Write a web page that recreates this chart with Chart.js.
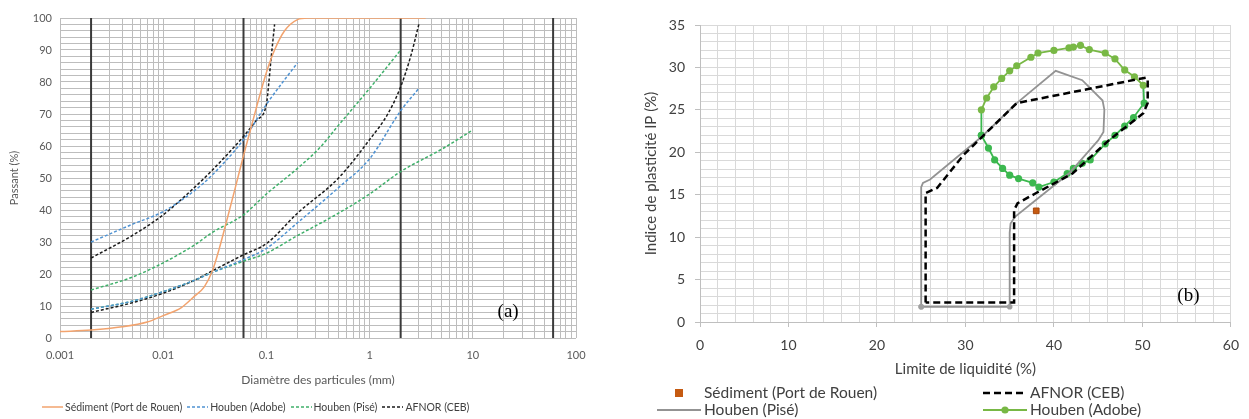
<!DOCTYPE html>
<html>
<head>
<meta charset="utf-8">
<script src="https://cdn.jsdelivr.net/npm/chart.js@4.4.1/dist/chart.umd.min.js"></script>
<style>
  body { margin: 0; background: #fff; font-family: Lato, sans-serif; }
  #page { position: relative; width: 1249px; height: 419px; overflow: hidden; }
  .box { position: absolute; top: 0; height: 419px; }
  .leg { position: absolute; color: #404040; white-space: nowrap; }
  .leg .it { display: inline-flex; align-items: center; }
  .leg svg { display: block; }
  #legA { left: 42px; top: 401px; font-size: 10.5px; line-height: 12px; display: flex; gap: 5px; }
  #legA .it span { margin-left: 2px; }
  #legB { left: 657px; top: 384px; font-size: 15.5px; line-height: 17px; display: grid; grid-template-columns: 326px auto; }
  #legB .it span { margin-left: 3px; }
</style>
</head>
<body>
<div id="page">
  <div class="box" style="left:0;width:640px"><canvas id="chartA"></canvas></div>
  <div class="box" style="left:640px;width:609px"><canvas id="chartB"></canvas></div>
  <div class="leg" id="legA"></div>
  <div class="leg" id="legB"></div>
</div>
<script>
Chart.defaults.font.family = 'Lato';
const TXT = '#595959';

// ---- (a) courbes granulométriques : diamètre (mm) -> passant (%)
const xTickLabels = ['0.001', '0.01', '0.1', '1', '10', '100'];
const sedD = [0.001, 0.002, 0.004, 0.007, 0.01, 0.015, 0.02, 0.025, 0.03, 0.035, 0.04, 0.05, 0.06, 0.07, 0.08, 0.1, 0.12, 0.15, 0.2, 0.25, 3.5];
const sedP = [2, 2.5, 3.5, 5, 7, 9.5, 13, 16, 21, 28, 35, 47, 57, 65, 72, 83, 90, 96, 99.5, 100, 100];
const adobeHiD = [0.002, 0.005, 0.01, 0.02, 0.03, 0.06, 0.1, 0.2];
const adobeHiP = [30, 35.5, 39.5, 46, 51, 62, 73, 86];
const adobeLoD = [0.002, 0.005, 0.01, 0.02, 0.03, 0.06, 0.1, 0.2, 0.5, 1, 2, 3];
const adobeLoP = [9, 11.5, 14.5, 18, 20.5, 24.5, 28, 36, 47, 56, 71, 78];
const piseHiD = [0.002, 0.005, 0.01, 0.02, 0.03, 0.06, 0.1, 0.2, 0.33, 0.5, 1, 2];
const piseHiP = [15, 19, 23.5, 29, 33, 38.5, 45, 53, 59.5, 66.5, 78, 90];
const piseLoD = [0.002, 0.005, 0.01, 0.02, 0.03, 0.06, 0.1, 0.2, 0.5, 1, 2, 5, 10];
const piseLoP = [9, 11.5, 14.5, 18, 20.5, 24, 26.5, 32, 39, 45, 52, 59, 65];
const afnorHiD = [0.002, 0.005, 0.01, 0.02, 0.03, 0.06, 0.08, 0.1, 0.105, 0.11, 0.12];
const afnorHiP = [25, 32, 38.5, 47, 52.5, 63, 68, 73, 79, 86, 98];
const afnorLoD = [0.002, 0.005, 0.01, 0.02, 0.03, 0.06, 0.1, 0.2, 0.5, 1, 1.5, 2, 2.5, 3];
const afnorLoP = [8, 11, 14, 18, 21, 26, 29.5, 39, 50, 62, 70, 78.5, 88, 98];
const boundD = [0.002, 0.06, 2, 60]; // argile / limon / sable / gravier

// ---- (b) diagramme de plasticité : limite de liquidité (%) -> IP (%)
const sedLL = [38.0];
const sedIP = [13.1];
const afnorLL = [25.5, 25.5, 26.8, 29.8, 35.8, 50.4, 50.6, 50.6, 50.1, 46.2, 42.1, 38.0, 35.9, 35.5, 35.5, 25.5];
const afnorIP = [2.3, 15.2, 15.8, 19.7, 25.8, 28.8, 28.6, 25.8, 24.6, 21.4, 17.5, 15.2, 14.0, 13.2, 2.3, 2.3];
const piseLL = [25.0, 25.0, 25.2, 26.0, 31.8, 35.8, 40.2, 43.2, 45.5, 45.7, 45.6, 45.0, 41.7, 38.0, 35.6, 35.1, 35.0, 35.0, 25.0];
const piseIP = [1.8, 15.9, 16.4, 16.8, 21.8, 25.8, 29.6, 28.5, 26.1, 25.0, 22.4, 21.4, 17.5, 14.4, 12.4, 11.6, 10.5, 1.8, 1.8];
const adobeLL = [31.8, 31.8, 32.4, 33.2, 34.1, 35.0, 35.8, 37.4, 38.2, 40.0, 41.7, 42.2, 43.0, 44.0, 45.8, 46.9, 48.0, 49.1, 50.1, 50.2, 49.0, 48.0, 46.9, 45.8, 44.1, 43.2, 42.2, 41.5, 40.0, 38.3, 37.6, 36.0, 35.0, 34.2, 33.3, 32.6, 31.8];
const adobeIP = [22.0, 25.0, 26.4, 27.7, 28.7, 29.6, 30.2, 31.2, 31.7, 32.0, 32.3, 32.4, 32.6, 32.1, 31.7, 31.0, 29.7, 28.9, 27.9, 25.8, 24.1, 23.1, 22.0, 21.0, 19.1, 18.7, 18.1, 17.5, 16.5, 15.9, 16.4, 16.9, 17.3, 18.1, 19.1, 20.5, 22.0];

function pts(xs, ys) {
  return xs.map((x, i) => ({x: x, y: ys[i]}));
}

// grille log : 1..9 par décade
const logGrid = [];
for (let e = -3; e < 2; e++) {
  for (let m = 1; m < 10; m++) logGrid.push(Number((m * Math.pow(10, e)).toPrecision(3)));
}
logGrid.push(100);

// "(a)" / "(b)" dans la zone de tracé
const tagPlugin = {
  id: 'tag',
  afterDraw(chart, args, opts) {
    const {ctx, scales} = chart;
    ctx.save();
    ctx.font = '19px "Liberation Serif", serif';
    ctx.fillStyle = '#000';
    ctx.textAlign = 'center';
    ctx.textBaseline = 'middle';
    ctx.fillText(opts.text, scales.x.getPixelForValue(opts.x), scales.y.getPixelForValue(opts.y));
    ctx.restore();
  }
};

function curve(label, xs, ys, color, dash, inLegend) {
  return {
    label: label, data: pts(xs, ys), borderColor: color, borderWidth: 1.5,
    borderDash: dash, pointRadius: 0, cubicInterpolationMode: 'monotone', inLegend: inLegend
  };
}

const orange = '#f2a36e', blue = '#4f92d2', green = '#3fb06a', black = '#1a1a1a';
const dsA = [
  curve('Sédiment (Port de Rouen)', sedD, sedP, orange, [], true),
  curve('Houben (Adobe)', adobeHiD, adobeHiP, blue, [3, 2], true),
  curve('Houben (Adobe)', adobeLoD, adobeLoP, blue, [3, 2], false),
  curve('Houben (Pisé)', piseHiD, piseHiP, green, [3, 2], true),
  curve('Houben (Pisé)', piseLoD, piseLoP, green, [3, 2], false),
  curve('AFNOR (CEB)', afnorHiD, afnorHiP, black, [3, 2], true),
  curve('AFNOR (CEB)', afnorLoD, afnorLoP, black, [3, 2], false)
];
boundD.forEach(d => {
  dsA.push({label: '', data: [{x: d, y: 0}, {x: d, y: 100}], borderColor: '#3a3a3a', borderWidth: 2, pointRadius: 0});
});

const chartA = new Chart(document.getElementById('chartA'), {
  type: 'line',
  data: {datasets: dsA},
  options: {
    responsive: true, maintainAspectRatio: false, animation: false,
    layout: {padding: {left: 0, top: 18, right: 64, bottom: 32}},
    plugins: {legend: {display: false}, tooltip: {enabled: false}, tag: {text: '(a)', x: 22, y: 8}},
    scales: {
      x: {
        type: 'logarithmic', min: 0.001, max: 100,
        afterBuildTicks: ax => { ax.ticks = logGrid.map(v => ({value: v})); },
        afterFit: ax => { ax.height = 49; },
        grid: {color: '#bdbdbd', drawTicks: false},
        border: {display: false},
        ticks: {
          autoSkip: false, maxRotation: 0, padding: 11, color: TXT, font: {size: 11},
          callback: v => xTickLabels.find(l => Math.abs(Number(l) / v - 1) < 1e-6) || ''
        },
        title: {display: true, text: 'Diamètre des particules (mm)', color: TXT, font: {size: 12}, padding: 0}
      },
      y: {
        min: 0, max: 100,
        afterFit: ax => { ax.width = 60; },
        grid: {color: '#bdbdbd', drawTicks: false},
        border: {display: false},
        ticks: {stepSize: 2, autoSkip: false, padding: 8, color: TXT, font: {size: 11}, callback: v => v % 10 === 0 ? v : ''},
        title: {display: true, text: 'Passant (%)', color: TXT, font: {size: 11}, padding: {top: 8, bottom: 0}}
      }
    }
  },
  plugins: [tagPlugin]
});

const topGreen = '#78b845', lowGreen = '#3cb84f';
const chartB = new Chart(document.getElementById('chartB'), {
  type: 'scatter',
  data: {
    datasets: [
      {label: 'Sédiment (Port de Rouen)', data: pts(sedLL, sedIP), pointStyle: 'rect', pointRadius: 4,
       backgroundColor: '#c55a11', borderColor: '#a9480c', borderWidth: 1, kind: 'square'},
      {label: 'AFNOR (CEB)', data: pts(afnorLL, afnorIP), showLine: true, borderColor: '#000',
       borderWidth: 2.5, borderDash: [7, 4], pointRadius: 0, kind: 'dash'},
      {label: 'Houben (Pisé)', data: pts(piseLL, piseIP), showLine: true, borderColor: '#939393', borderWidth: 1.8,
       backgroundColor: '#a0a0a0', pointBorderWidth: 0,
       pointRadius: c => (c.raw && c.raw.y < 2.5) ? 2.8 : 0, kind: 'line'},
      {label: 'Houben (Adobe)', data: pts(adobeLL, adobeIP), showLine: true, borderWidth: 1.8,
       borderColor: lowGreen, pointRadius: 3.6, pointBorderWidth: 0,
       segment: {borderColor: s => (s.p0DataIndex >= 1 && s.p0DataIndex < 18) ? topGreen : lowGreen},
       backgroundColor: c => (c.dataIndex >= 1 && c.dataIndex <= 18) ? topGreen : lowGreen, kind: 'dot'}
    ]
  },
  options: {
    responsive: true, maintainAspectRatio: false, animation: false,
    layout: {padding: {left: 0, top: 25, right: 12, bottom: 40}},
    plugins: {legend: {display: false}, tooltip: {enabled: false}, tag: {text: '(b)', x: 55.2, y: 3.1}},
    scales: {
      x: {
        type: 'linear', min: 0, max: 60,
        afterFit: ax => { ax.height = 57; },
        grid: {color: '#d9d9d9', tickLength: 5, tickColor: c => c.tick.value % 10 === 0 ? '#bfbfbf' : 'rgba(0,0,0,0)'},
        border: {color: '#bfbfbf'},
        ticks: {stepSize: 2, autoSkip: false, maxRotation: 0, padding: 10, color: '#404040', font: {size: 14},
                callback: v => v % 10 === 0 ? v : ''},
        title: {display: true, text: 'Limite de liquidité (%)', color: '#404040', font: {size: 15}, padding: {top: 0, bottom: 1}}
      },
      y: {
        min: 0, max: 35,
        afterFit: ax => { ax.width = 60; },
        grid: {color: '#d9d9d9', tickLength: 5, tickColor: c => c.tick.value % 5 === 0 ? '#bfbfbf' : 'rgba(0,0,0,0)'},
        border: {color: '#bfbfbf'},
        ticks: {stepSize: 1, autoSkip: false, padding: 10, color: '#404040', font: {size: 14},
                callback: v => v % 5 === 0 ? v : ''},
        title: {display: true, text: 'Indice de plasticité IP (%)', color: '#404040', font: {size: 15}, padding: {top: 2, bottom: 0}}
      }
    }
  },
  plugins: [tagPlugin]
});

// légendes HTML construites à partir des jeux de données
function lineSvg(w, color, width, dash) {
  return '<svg width="' + w + '" height="12"><line x1="0" y1="6" x2="' + w + '" y2="6" stroke="' + color +
    '" stroke-width="' + width + '" stroke-dasharray="' + (dash && dash.length ? dash.join(',') : 'none') + '"/></svg>';
}

document.getElementById('legA').innerHTML = chartA.data.datasets.filter(d => d.inLegend).map(d =>
  '<span class="it">' + lineSvg(21, d.borderColor, d.borderWidth, d.borderDash) + '<span>' + d.label + '</span></span>'
).join('');

document.getElementById('legB').innerHTML = chartB.data.datasets.map(d => {
  let svg;
  if (d.kind === 'square') {
    svg = '<svg width="44" height="12"><rect x="18" y="2" width="8" height="8" fill="' + d.backgroundColor + '"/></svg>';
  } else if (d.kind === 'dot') {
    svg = '<svg width="44" height="12"><line x1="0" y1="6" x2="44" y2="6" stroke="' + topGreen + '" stroke-width="1.8"/>' +
          '<circle cx="22" cy="6" r="3.6" fill="' + topGreen + '"/></svg>';
  } else {
    svg = lineSvg(44, d.borderColor, d.borderWidth, d.borderDash);
  }
  return '<span class="it">' + svg + '<span>' + d.label + '</span></span>';
}).join('');
</script>
</body>
</html>
